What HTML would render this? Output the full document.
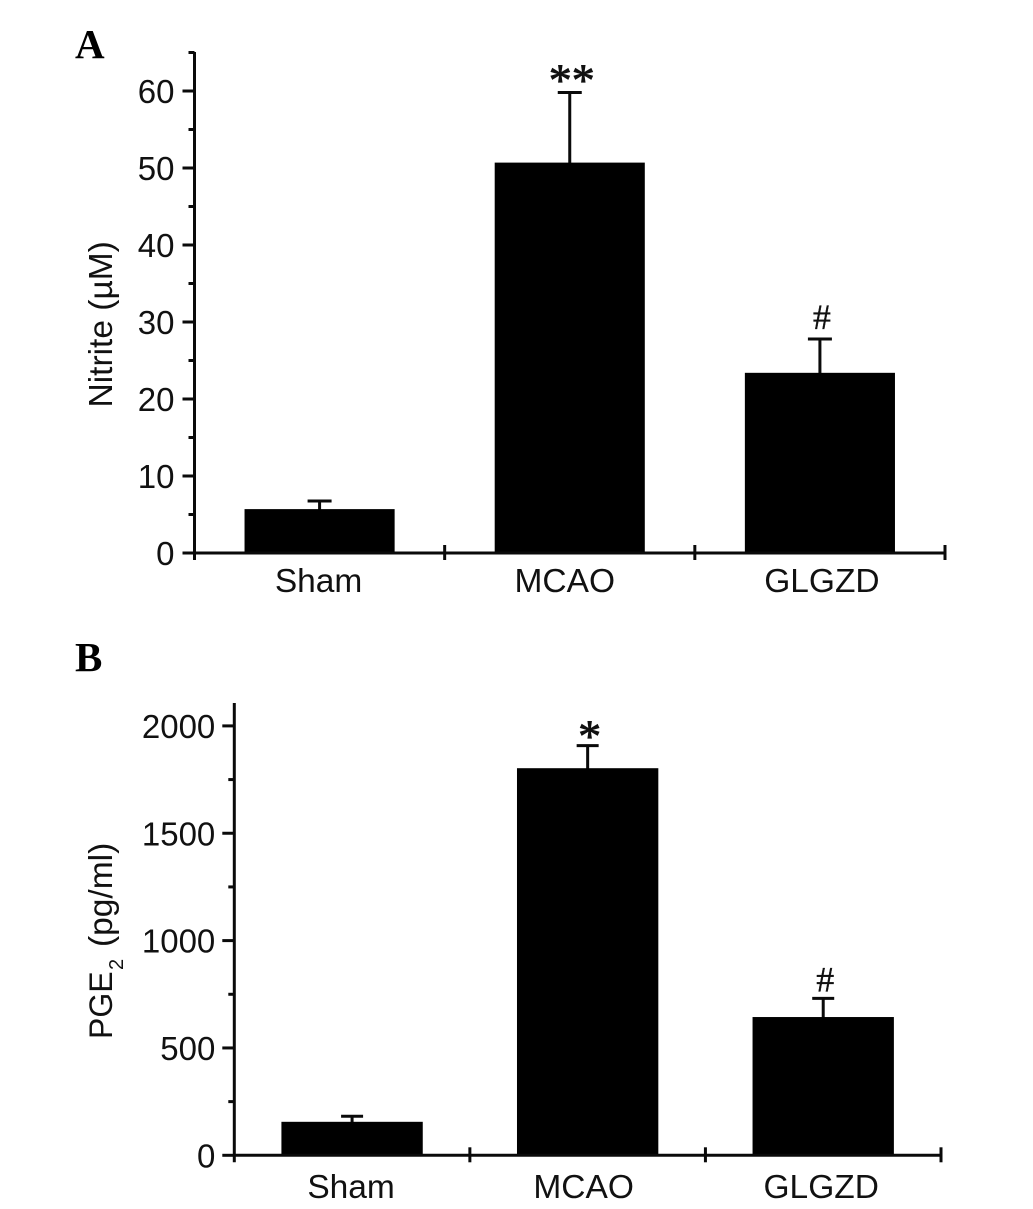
<!DOCTYPE html>
<html>
<head>
<meta charset="utf-8">
<title>Nitrite and PGE2 bar charts</title>
<style>
html,body{margin:0;padding:0;background:#fff;}
svg{display:block;}
text{font-family:"Liberation Sans",sans-serif;fill:#111;}
.serif{font-family:"Liberation Serif",serif;}
</style>
</head>
<body>
<svg id="figure" xmlns="http://www.w3.org/2000/svg" width="1033" height="1209" viewBox="0 0 1033 1209"></svg>
<script>
const categories = ["Sham", "MCAO", "GLGZD"];

const nitriteValues = [5.7, 50.7, 23.4];
const nitriteErrorTops = [6.75, 59.8, 27.8];
const nitriteMarks = ["", "**", "#"];
const nitriteTicks = [0, 10, 20, 30, 40, 50, 60];
const nitriteMinorTicks = [5, 15, 25, 35, 45, 55, 65];

const pgeValues = [156, 1803, 644];
const pgeErrorTops = [182, 1908, 731];
const pgeMarks = ["", "*", "#"];
const pgeTicks = [0, 500, 1000, 1500, 2000];
const pgeMinorTicks = [250, 750, 1250, 1750];

const svg = document.getElementById("figure");
const NS = "http://www.w3.org/2000/svg";

function add(tag, attrs, text, parent) {
  const el = document.createElementNS(NS, tag);
  for (const k in attrs) el.setAttribute(k, attrs[k]);
  if (text !== undefined && text !== null) el.textContent = text;
  (parent || svg).appendChild(el);
  return el;
}

function line(x1, y1, x2, y2, w, parent) {
  return add("line", {x1: x1, y1: y1, x2: x2, y2: y2, stroke: "#0a0a0a", "stroke-width": w}, null, parent);
}

function drawPanel(cfg) {
  const yScale = v => cfg.y0 - v * cfg.pxPerUnit;
  const band = (cfg.xEnd - cfg.xStart) / categories.length;
  const xCenter = i => cfg.xStart + band * (i + 0.5);
  const barW = band * 0.6;

  const g = add("g", {});
  
  

  cfg.values.forEach((v, i) => {
    const top = yScale(v);
    const errTop = yScale(cfg.errorTops[i]);
    const eg = add("g", {}, null, g);
    
    
    line(xCenter(i), top + 1, xCenter(i), errTop, 3, eg);
    line(xCenter(i) - cfg.cap, errTop, xCenter(i) + cfg.cap, errTop, 3, eg);

    const bar = add("rect", {x: xCenter(i) - barW / 2, y: top, width: barW, height: cfg.y0 - top, fill: "#000"}, null, g);
    
    

    const lab = add("text", {x: xCenter(i) + cfg.catShift(i), y: cfg.catY, "text-anchor": "middle", "font-size": 33.5}, categories[i], g);
    
    

    if (cfg.marks[i]) {
      const isHash = cfg.marks[i] === "#";
      const mark = add("text", {
        x: xCenter(i) + 2,
        y: errTop + (isHash ? cfg.hashDy : cfg.starDy),
        "text-anchor": "middle",
        "font-size": isHash ? 36 : 46,
        stroke: "#111",
        "stroke-width": isHash ? 0.3 : 0.9,
        "class": "serif"
      }, cfg.marks[i], g);
      
      
    }
  });

  const yAxis = add("g", {}, null, g);
  
  
  line(cfg.xStart, cfg.axisTop - 1, cfg.xStart, cfg.y0 + 7, 3, yAxis);
  cfg.ticks.forEach(t => {
    line(cfg.xStart - 12, yScale(t), cfg.xStart, yScale(t), 3, yAxis);
    const lab = add("text", {x: cfg.xStart - cfg.labelGap, y: yScale(t) + 12, "text-anchor": "end", "font-size": 33}, t, yAxis);
    
    
  });
  cfg.minorTicks.forEach(t => {
    line(cfg.xStart - 6, yScale(t), cfg.xStart, yScale(t), 3, yAxis);
  });

  const xAxis = add("g", {}, null, g);
  
  
  line(cfg.xStart, cfg.y0, cfg.xEnd, cfg.y0, 3, xAxis);
  categories.forEach((c, i) => {
    const x = cfg.xStart + band * (i + 1);
    line(x, cfg.y0 - 8, x, cfg.y0 + 7, 3, xAxis);
  });
}

drawPanel({
  id: "nitrite", values: nitriteValues, errorTops: nitriteErrorTops, marks: nitriteMarks,
  ticks: nitriteTicks, minorTicks: nitriteMinorTicks,
  xStart: 194.5, xEnd: 945, y0: 553, pxPerUnit: 7.7, axisTop: 53, cap: 12, catY: 592,
  labelGap: 20, starDy: 3, hashDy: -10,
  catShift: i => (i === 0 ? -1 : i === 1 ? -5 : 2)
});

drawPanel({
  id: "pge", values: pgeValues, errorTops: pgeErrorTops, marks: pgeMarks,
  ticks: pgeTicks, minorTicks: pgeMinorTicks,
  xStart: 234.3, xEnd: 941, y0: 1155.3, pxPerUnit: 0.2147, axisTop: 704, cap: 11, catY: 1198,
  labelGap: 19, starDy: 6, hashDy: -7,
  catShift: i => (i === 0 ? -1 : i === 1 ? -4 : -2)
});
</script>
<svg xmlns="http://www.w3.org/2000/svg" width="1033" height="1209" viewBox="0 0 1033 1209" style="position:absolute;left:0;top:0;">
  <text class="serif" x="75" y="58" font-size="41" font-weight="bold" style="fill:#000">A</text>
  <text class="serif" x="75" y="671" font-size="41" font-weight="bold" style="fill:#000">B</text>
  <text transform="translate(112 407.5) rotate(-90)" font-size="33.5">Nitrite (µM)</text>
  <text transform="translate(112 1039) rotate(-90)" font-size="32">PGE<tspan x="69" dy="11" font-size="20">2</tspan><tspan x="92" dy="-11" font-size="33.5">(pg/ml)</tspan></text>
</svg>
</body>
</html>
